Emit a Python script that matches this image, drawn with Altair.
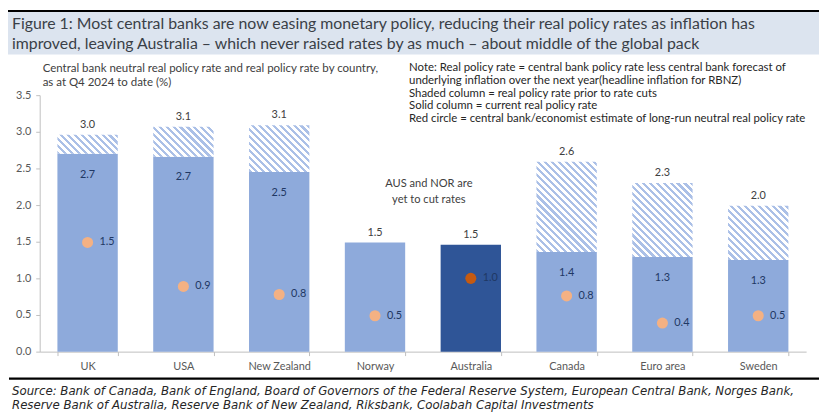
import altair as alt
import pandas as pd

# ---------------- data ----------------
countries = ["UK", "USA", "New Zealand", "Norway", "Australia", "Canada", "Euro area", "Sweden"]
current_rate = [2.70, 2.66, 2.45, 1.49, 1.46, 1.36, 1.29, 1.25]
prior_rate = [2.96, 3.07, 3.09, 1.49, 1.46, 2.59, 2.30, 1.99]
neutral_rate = [1.49, 0.89, 0.78, 0.49, 1.00, 0.76, 0.39, 0.49]
y_ticks = [0.0, 0.5, 1.0, 1.5, 2.0, 2.5, 3.0, 3.5]

title_lines = [
    "Figure 1: Most central banks are now easing monetary policy, reducing their real policy rates as inflation has",
    "improved, leaving Australia \u2013 which never raised rates by as much \u2013 about middle of the global pack",
]
subtitle_lines = [
    "Central bank neutral real policy rate and real policy rate by country,",
    "as at Q4 2024 to date (%)",
]
note_lines = [
    "Note: Real policy rate = central bank policy rate less central bank forecast of",
    "underlying inflation over the next year(headline inflation for RBNZ)",
    "Shaded column = real policy rate prior to rate cuts",
    "Solid column = current real policy rate",
    "Red circle = central bank/economist estimate of long-run neutral real policy rate",
]
annotation_lines = ["AUS and NOR are", "yet to cut rates"]
source_lines = [
    "Source: Bank of Canada, Bank of England, Board of Governors of the Federal Reserve System, European Central Bank, Norges Bank,",
    "Reserve Bank of Australia, Reserve Bank of New Zealand, Riksbank, Coolabah Capital Investments",
]

df = pd.DataFrame({
    "country": countries,
    "current": current_rate,
    "prior": prior_rate,
    "neutral": neutral_rate,
})

# ---------------- layout / style ----------------
FONT = "Lato"
SRC_FONT = "DejaVu Sans"
W, H = 774, 259
YMAX = 3.5
P_IN, P_OUT = 0.37, 0.185
PAD = {"left": 32, "top": 86, "right": 13, "bottom": 65}

BAR = "#8eaadb"
BAR_AUS = "#2f5597"
DOT = "#f4b183"
DOT_AUS = "#c55a11"
HATCH = "#abc0e7"
NAVY = "#1f3864"
GREY = "#404040"
AXIS_GREY = "#bfbfbf"

xscale = alt.Scale(domain=countries, paddingInner=P_IN, paddingOuter=P_OUT)
xaxis = alt.Axis(title=None, labelAngle=0, tickBand="extent", labelColor="#595959",
                 labelFont=FONT, labelFontSize=11, tickSize=4, labelPadding=5,
                 domainColor=AXIS_GREY, tickColor=AXIS_GREY, grid=False)
yscale = alt.Scale(domain=[0, YMAX], nice=False, zero=True)
yaxis = alt.Axis(title=None, values=y_ticks, format=".1f", labelColor="#595959",
                 labelFont=FONT, labelFontSize=11, tickSize=4, labelPadding=5,
                 domainColor=AXIS_GREY, tickColor=AXIS_GREY, grid=False)


def X():
    return alt.X("country:N", sort=countries, scale=xscale, axis=xaxis)


def Y(field):
    return alt.Y(f"{field}:Q", scale=yscale, axis=yaxis)


base = alt.Chart(df)
is_aus = alt.datum.country == "Australia"

solid = base.mark_bar().encode(
    x=X(), y=Y("current"),
    color=alt.condition(is_aus, alt.value(BAR_AUS), alt.value(BAR)),
)

# hatched "prior" segments: a striped gradient per bar, angled at 45 degrees
step = W / (len(countries) - P_IN + 2 * P_OUT)
bw = step * (1 - P_IN)
hatch_layers = []
period = 7.0
for c, cur, pri in zip(countries, current_rate, prior_rate):
    if pri <= cur:
        continue
    h = (pri - cur) * H / YMAX
    w = bw
    L = w + h
    stops = []
    pos = 0.0
    while pos < L:
        a = pos / L
        b = min((pos + period * 0.45) / L, 1.0)
        e = min((pos + period) / L, 1.0)
        stops += [alt.GradientStop(color=HATCH, offset=a), alt.GradientStop(color=HATCH, offset=b),
                  alt.GradientStop(color="#ffffff", offset=b), alt.GradientStop(color="#ffffff", offset=e)]
        pos += period
    s = L / (w * w + h * h)
    grad = alt.LinearGradient(gradient="linear", stops=stops, x1=0, y1=1, x2=w * s, y2=1 - h * s)
    hatch_layers.append(
        base.transform_filter(alt.datum.country == c).mark_bar(color=grad).encode(
            x=X(), y=Y("prior"), y2="current:Q")
    )

top_labels = base.mark_text(font=FONT, fontSize=11, color=GREY, dy=-10, baseline="middle").encode(
    x=X(), y=Y("prior"), text=alt.Text("prior:Q", format=".1f"))

inner_labels = base.transform_filter("datum.prior > datum.current").mark_text(
    font=FONT, fontSize=11, color=NAVY, dy=21, baseline="middle").encode(
    x=X(), y=Y("current"), text=alt.Text("current:Q", format=".1f"))

dots = base.mark_circle(size=125, opacity=1).encode(
    x=X(), y=Y("neutral"),
    color=alt.condition(is_aus, alt.value(DOT_AUS), alt.value(DOT)))

dot_labels = base.mark_text(font=FONT, fontSize=11, color=NAVY, dx=12, align="left", baseline="middle").encode(
    x=X(), y=Y("neutral"), text=alt.Text("neutral:Q", format=".1f"))

one = alt.Data(values=[{"k": 1}])


def rect(x, x2, y, y2, color):
    return alt.Chart(one).mark_rect(color=color).encode(
        x=alt.value(x), x2=alt.value(x2), y=alt.value(y), y2=alt.value(y2))


def text(t, x, y, size, color=GREY, align="left", italic=False, font=FONT):
    return alt.Chart(one).mark_text(
        font=font, fontSize=size, color=color, align=align, baseline="middle",
        fontStyle="italic" if italic else "normal").encode(
        x=alt.value(x), y=alt.value(y), text=alt.value(t))


deco = [
    rect(-32, W + PAD["right"], -86, -84, "#000000"),
    rect(-32, W + PAD["right"], -84, -41, "#dce4ef"),
    rect(-31, W + PAD["right"], 285, 287.5, "#000000"),
]
texts = []
for i, t in enumerate(title_lines):
    texts.append(text(t, -28, -72 + 20 * i, 16.0, color="#3a3f47"))
for i, t in enumerate(subtitle_lines):
    texts.append(text(t, 3, -26 + 14 * i, 11.6, color=GREY))
for i, t in enumerate(note_lines):
    texts.append(text(t, 373, -27 + 12.8 * i, 11.5, color="#262626"))
for i, t in enumerate(annotation_lines):
    texts.append(text(t, 393, 90 + 16 * i, 11.2, color=GREY, align="center"))
for i, t in enumerate(source_lines):
    texts.append(text(t, -28, 299 + 14 * i, 11.9, color="#262626", italic=True, font=SRC_FONT))

chart = alt.layer(
    *deco, solid, *hatch_layers, top_labels, inner_labels, dots, dot_labels, *texts
).properties(
    width=W, height=H, padding=PAD,
    autosize=alt.AutoSizeParams(type="none"),
    background="#ffffff",
).configure_view(stroke=None)

chart.save("out.html", embed_options={"renderer": "svg", "actions": False})
